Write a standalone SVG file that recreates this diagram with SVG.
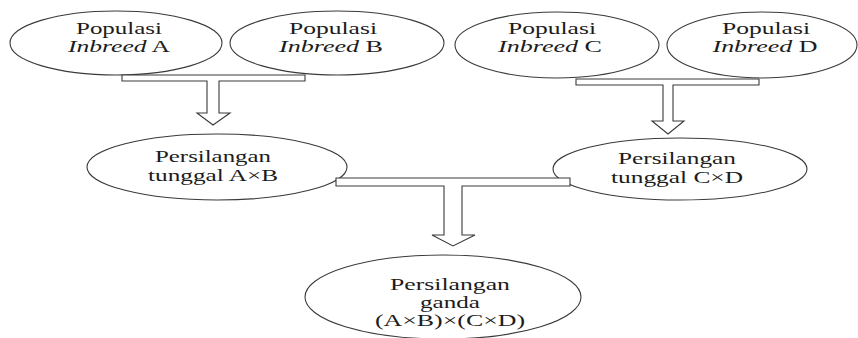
<svg xmlns="http://www.w3.org/2000/svg" width="858" height="338" viewBox="0 0 858 338">
<style>
.n ellipse{fill:#fff;stroke:#3a3a3a;stroke-width:1.1}
.c path{fill:#fff;stroke:#3a3a3a;stroke-width:1.1;stroke-linejoin:miter}
text{font-family:'Liberation Serif','DejaVu Serif','Times New Roman',serif;font-size:17px;fill:#1c1c1c;text-anchor:middle}
.i{font-style:italic}
</style>
<rect width="858" height="338" fill="#fff"/>
<g id="nodeA" class="n">
<ellipse cx="116" cy="43" rx="106" ry="32"/>
<text x="119" y="34" textLength="86" lengthAdjust="spacingAndGlyphs">Populasi</text>
<text x="119" y="52" textLength="102" lengthAdjust="spacingAndGlyphs"><tspan class="i">Inbreed</tspan> A</text>
</g>
<g id="nodeB" class="n">
<ellipse cx="337" cy="43" rx="107" ry="32"/>
<text x="333" y="34" textLength="88" lengthAdjust="spacingAndGlyphs">Populasi</text>
<text x="331" y="52" textLength="104" lengthAdjust="spacingAndGlyphs"><tspan class="i">Inbreed</tspan> B</text>
</g>
<g id="nodeC" class="n">
<ellipse cx="557" cy="45" rx="102" ry="33"/>
<text x="552" y="34" textLength="88" lengthAdjust="spacingAndGlyphs">Populasi</text>
<text x="550" y="52" textLength="104" lengthAdjust="spacingAndGlyphs"><tspan class="i">Inbreed</tspan> C</text>
</g>
<g id="nodeD" class="n">
<ellipse cx="762" cy="45" rx="95" ry="33"/>
<text x="766" y="34" textLength="88" lengthAdjust="spacingAndGlyphs">Populasi</text>
<text x="765" y="52" textLength="105" lengthAdjust="spacingAndGlyphs"><tspan class="i">Inbreed</tspan> D</text>
</g>
<g id="nodeAB" class="n">
<ellipse cx="217" cy="167" rx="130" ry="33"/>
<text x="213" y="162" textLength="116" lengthAdjust="spacingAndGlyphs">Persilangan</text>
<text x="213" y="181" textLength="130" lengthAdjust="spacingAndGlyphs">tunggal A×B</text>
</g>
<g id="nodeCD" class="n">
<ellipse cx="680" cy="169" rx="127" ry="31"/>
<text x="677" y="164" textLength="118" lengthAdjust="spacingAndGlyphs">Persilangan</text>
<text x="677" y="183" textLength="132" lengthAdjust="spacingAndGlyphs">tunggal C×D</text>
</g>
<g id="nodeABCD" class="n">
<ellipse cx="443" cy="297" rx="138" ry="42"/>
<text x="450" y="290" textLength="120" lengthAdjust="spacingAndGlyphs">Persilangan</text>
<text x="450" y="308" textLength="60" lengthAdjust="spacingAndGlyphs">ganda</text>
<text x="450" y="326" textLength="150" lengthAdjust="spacingAndGlyphs">(A×B)×(C×D)</text>
</g>
<g id="connectors" class="c">
<path d="M122,75 H305 V81 H219 V113 H230 L213,125 L197,113 H207 V81 H122 Z"/>
<path d="M576,79 H759 V85 H673 V121 H684 L668,134 L652,121 H663 V85 H576 Z"/>
<path d="M336,178 H570 V186 H462 V235 H475 L453,246 L432,235 H444 V186 H336 Z"/>
</g>
</svg>
